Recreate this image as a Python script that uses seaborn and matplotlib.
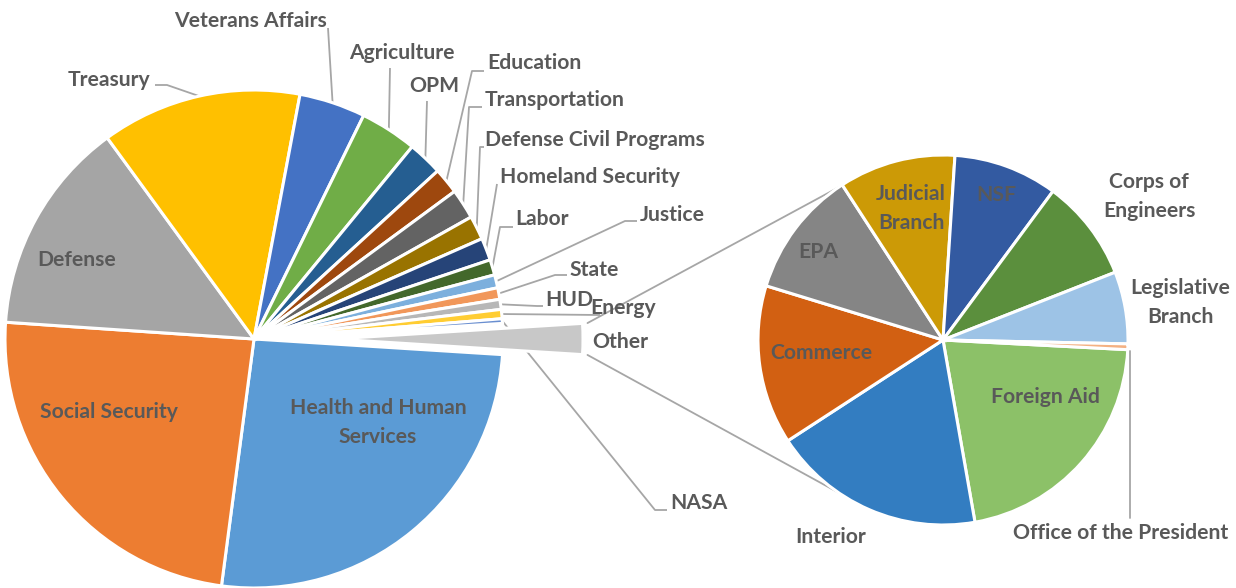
import numpy as np
import matplotlib
matplotlib.use("Agg")
import matplotlib.pyplot as plt
import seaborn as sns

# ---------------- data ----------------
main_labels = ["Health and Human Services", "Social Security", "Defense", "Treasury",
               "Veterans Affairs", "Agriculture", "OPM", "Education", "Transportation",
               "Defense Civil Programs", "Homeland Security", "Labor", "Justice",
               "State", "HUD", "Energy", "NASA"]
main_values = [26.1, 24.0, 13.9, 13.0, 4.3, 3.7, 2.25, 1.7, 1.95, 1.55, 1.45,
               1.0, 0.85, 0.75, 0.65, 0.6, 0.3]

other_labels = ["Foreign Aid", "Interior", "Commerce", "EPA", "Judicial Branch", "NSF",
                "Corps of Engineers", "Legislative Branch", "Office of the President"]
other_values = [0.428, 0.372, 0.278, 0.222, 0.204, 0.182, 0.178, 0.126, 0.01]

# ---------------- style ----------------
main_colors = ["#5B9BD5", "#ED7D31", "#A5A5A5", "#FFC000", "#4472C4", "#70AD47",
               "#255E91", "#9E480E", "#636363", "#997300", "#264478", "#43682B",
               "#7CAFDD", "#F1975A", "#B7B7B7", "#FFCD33", "#698ED0"]
other_slice_color = "#C8C8C8"
second_colors = ["#8CC168", "#337DC1", "#D26012", "#858585", "#CC9A06", "#335AA1",
                 "#5B8F3D", "#9DC3E6", "#F4B183"]

sns.set_theme(style="white")
plt.rcParams["font.family"] = ["Lato", "DejaVu Sans"]

TXT = "#595959"
LEAD = "#A6A6A6"
FS = 15.2
W, H = 1236, 588

fig = plt.figure(figsize=(W / 100, H / 100), dpi=100)
ax = fig.add_axes([0, 0, 1, 1])


def P(x, y):
    """top-down pixel coords -> data coords"""
    return (x, H - y)


# ---------------- main pie ----------------
main_c = P(254, 339)
main_r = 249
other_total = sum(other_values)
vals = main_values + [other_total]
total = sum(vals)
start = -other_total / total * 360 / 2
wedges, _ = ax.pie(vals, colors=main_colors + [other_slice_color], startangle=start,
                   counterclock=False, center=main_c, radius=main_r,
                   wedgeprops=dict(edgecolor="white", linewidth=2.2))
ow = wedges[-1]
thm = np.deg2rad((ow.theta1 + ow.theta2) / 2)
off = 80
ow.set_center((main_c[0] + off * np.cos(thm), main_c[1] + off * np.sin(thm)))

# ---------------- secondary pie ----------------
sec_c = P(943, 340)
sec_r = 185
wedges2, _ = ax.pie(other_values, colors=second_colors, startangle=-3.0,
                    counterclock=False, center=sec_c, radius=sec_r,
                    wedgeprops=dict(edgecolor="white", linewidth=2.2))

ax.set_xlim(0, W)
ax.set_ylim(0, H)
ax.set_aspect("equal")
ax.axis("off")


def edge_pt(w, frac=1.0):
    t = np.deg2rad((w.theta1 + w.theta2) / 2)
    cx, cy = w.center
    return (cx + w.r * frac * np.cos(t), cy + w.r * frac * np.sin(t))


# outside labels: text (x, y, ha) and leader elbow points (top-down px)
outside = {
    "Treasury": ((150, 80, "right"), [(155, 85), (167, 85)]),
    "Veterans Affairs": ((327, 21, "right"), [(328, 28)]),
    "Agriculture": ((402, 53, "center"), [(390, 68)]),
    "OPM": ((434, 86, "center"), [(427, 101)]),
    "Education": ((487, 63, "left"), [(484, 71), (472, 71)]),
    "Transportation": ((485, 100, "left"), [(482, 107), (469, 107)]),
    "Defense Civil Programs": ((485, 140, "left"), [(484, 147), (480, 147)]),
    "Homeland Security": ((500, 177, "left"), [(497, 184)]),
    "Labor": ((515, 219, "left"), [(513, 227), (500, 227)]),
    "Justice": ((640, 215, "left"), [(637, 221), (625, 221)]),
    "State": ((569, 270, "left"), [(567, 275), (555, 275)]),
    "HUD": ((545, 300, "left"), [(543, 306), (537, 306)]),
    "Energy": ((590, 308, "left"), [(600, 315)]),
    "NASA": ((670, 503, "left"), [(667, 510), (655, 510)]),
}
inside_main = {
    "Defense": [(77, 260, "Defense")],
    "Social Security": [(109, 412, "Social Security")],
    "Health and Human Services": [(378, 408, "Health and Human"), (378, 437, "Services")],
}

for w, name in zip(wedges[:-1], main_labels):
    if name in outside:
        (tx, ty, ha), elbows = outside[name]
        ax.text(*P(tx, ty), name, ha=ha, va="center", fontsize=FS,
                fontweight="bold", color=TXT)
        pts = [P(*e) for e in elbows] + [edge_pt(w)]
        xs, ys = zip(*pts)
        ax.plot(xs, ys, color=LEAD, lw=1.3, solid_capstyle="butt", zorder=0.5)
    elif name in inside_main:
        for tx, ty, s in inside_main[name]:
            ax.text(*P(tx, ty), s, ha="center", va="center", fontsize=FS,
                    fontweight="bold", color=TXT)

ax.text(*P(592, 342), "Other", ha="left", va="center", fontsize=FS,
        fontweight="bold", color=TXT)

sec_text = {
    "Foreign Aid": [(1045, 397, "Foreign Aid")],
    "Interior": [(831, 537, "Interior")],
    "Commerce": [(821, 353, "Commerce")],
    "EPA": [(818, 252, "EPA")],
    "Judicial Branch": [(911, 194, "Judicial"), (911, 223, "Branch")],
    "NSF": [(996, 195, "NSF")],
    "Corps of Engineers": [(1149, 182, "Corps of"), (1149, 211, "Engineers")],
    "Legislative Branch": [(1180, 288, "Legislative"), (1180, 317, "Branch")],
    "Office of the President": [(1121, 533, "Office of the President")],
}
for w, name in zip(wedges2, other_labels):
    for tx, ty, s in sec_text[name]:
        ax.text(*P(tx, ty), s, ha="center", va="center", fontsize=FS,
                fontweight="bold", color=TXT)
    if name == "Office of the President":
        ex, ey = edge_pt(w)
        ax.plot([ex + 2, ex + 2], [ey - 4, H - 518], color=LEAD, lw=1.3)

# ---------------- connector lines ----------------
ocx, ocy = ow.center
conn_angle = 124.5
for th, sgn in ((ow.theta2, 1), (ow.theta1, -1)):
    t = np.deg2rad(th)
    x0 = ocx + (ow.r + 5) * np.cos(t)
    y0 = ocy + (ow.r + 5) * np.sin(t)
    t2 = np.deg2rad(sgn * conn_angle)
    x1 = sec_c[0] + sec_r * np.cos(t2)
    y1 = sec_c[1] + sec_r * np.sin(t2)
    ax.plot([x0, x1], [y0, y1], color=LEAD, lw=1.3, zorder=0.5)

fig.savefig("out.png", dpi=100)
